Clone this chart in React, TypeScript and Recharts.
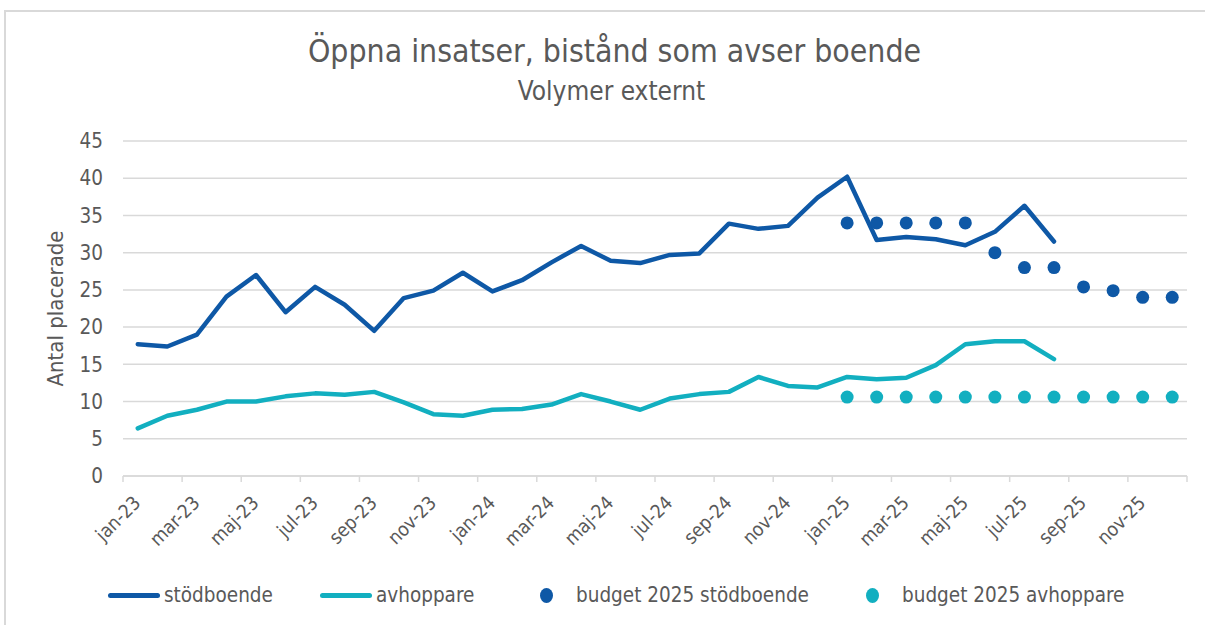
import { CartesianGrid, Legend, Line, LineChart, XAxis, YAxis } from "recharts";

const months = [
	"jan-23", "feb-23", "mar-23", "apr-23", "maj-23", "jun-23", "jul-23", "aug-23", "sep-23", "okt-23", "nov-23", "dec-23",
	"jan-24", "feb-24", "mar-24", "apr-24", "maj-24", "jun-24", "jul-24", "aug-24", "sep-24", "okt-24", "nov-24", "dec-24",
	"jan-25", "feb-25", "mar-25", "apr-25", "maj-25", "jun-25", "jul-25", "aug-25", "sep-25", "okt-25", "nov-25", "dec-25",
];

const stodboende = [
	17.7, 17.4, 19.0, 24.1, 27.0, 22.0, 25.4, 23.0, 19.5, 23.9, 24.9, 27.3,
	24.8, 26.3, 28.7, 30.9, 28.9, 28.6, 29.7, 29.9, 33.9, 33.2, 33.6, 37.4,
	40.2, 31.7, 32.1, 31.8, 31.0, 32.8, 36.3, 31.5,
];

const avhoppare = [
	6.4, 8.1, 8.9, 10.0, 10.0, 10.7, 11.1, 10.9, 11.3, 9.9, 8.3, 8.1,
	8.9, 9.0, 9.6, 11.0, 10.0, 8.9, 10.4, 11.0, 11.3, 13.3, 12.1, 11.9,
	13.3, 13.0, 13.2, 14.9, 17.7, 18.1, 18.1, 15.7,
];

// budget 2025 starts at jan-25
const budgetStart = 24;
const budgetStod = [34, 34, 34, 34, 34, 30, 28, 28, 25.4, 24.9, 24, 24];
const budgetAvh = [10.6, 10.6, 10.6, 10.6, 10.6, 10.6, 10.6, 10.6, 10.6, 10.6, 10.6, 10.6];

const yTicks = [0, 5, 10, 15, 20, 25, 30, 35, 40, 45];

const DARK_BLUE = "#0E58A6";
const TEAL = "#12AFC0";
const TEXT = "#595959";
const GRID = "#d9d9d9";
const FONT = "'Liberation Sans Narrow', 'DejaVu Sans Condensed', 'Open Sans', sans-serif";

const CHART_W = 1199;
const CHART_H = 613;
const MARGIN = { top: 129, right: 18, left: 0, bottom: 10 };
const Y_WIDTH = 117;
const PLOT_W = CHART_W - MARGIN.left - MARGIN.right - Y_WIDTH;
const BAND = PLOT_W / months.length;

const data = months.map((month, i) => ({
	month,
	stod: i < stodboende.length ? stodboende[i] : null,
	avh: i < avhoppare.length ? avhoppare[i] : null,
	bStod: i >= budgetStart ? budgetStod[i - budgetStart] : null,
	bAvh: i >= budgetStart ? budgetAvh[i - budgetStart] : null,
}));

const legendItems = [
	{ label: "stödboende", color: DARK_BLUE, kind: "line", width: 212 },
	{ label: "avhoppare", color: TEAL, kind: "line", width: 220 },
	{ label: "budget 2025 stödboende", color: DARK_BLUE, kind: "dot", width: 326 },
	{ label: "budget 2025 avhoppare", color: TEAL, kind: "dot", width: 260 },
];

function MonthTick(props: any) {
	const { x, y, payload } = props;
	const idx = months.indexOf(payload.value);
	const left = x - BAND / 2;
	return (
		<g>
			<line x1={left} y1={y} x2={left} y2={y + 6} stroke={GRID} strokeWidth={1.5} />
			{idx === months.length - 2 && (
				<line x1={x + BAND * 1.5} y1={y} x2={x + BAND * 1.5} y2={y + 6} stroke={GRID} strokeWidth={1.5} />
			)}
			<text
				x={x + 4}
				y={y + 28}
				textAnchor="end"
				transform={`rotate(-45 ${x + 4} ${y + 28})`}
				fill={TEXT}
				fontSize={19}
				fontFamily={FONT}
			>
				{payload.value}
			</text>
		</g>
	);
}

function ChartLegend() {
	return (
		<div style={{ display: "flex", height: 40, alignItems: "center", paddingLeft: 102, fontFamily: FONT, fontSize: 20.5, color: TEXT }}>
			{legendItems.map((item) => (
				<div key={item.label} style={{ display: "flex", alignItems: "center", width: item.width, flexShrink: 0 }}>
					{item.kind === "line" ? (
						<span style={{ display: "inline-block", width: 52, height: 5, borderRadius: 3, background: item.color, marginRight: 4 }} />
					) : (
						<span style={{ display: "inline-block", width: 13, height: 15, borderRadius: "50%", background: item.color, marginRight: 23 }} />
					)}
					<span>{item.label}</span>
				</div>
			))}
		</div>
	);
}

export default function App() {
	return (
		<div
			style={{
				position: "absolute",
				left: 4,
				top: 10,
				width: CHART_W,
				height: CHART_H,
				borderTop: `2px solid ${GRID}`,
				borderLeft: `2px solid ${GRID}`,
				background: "#fff",
				fontFamily: FONT,
			}}
		>
			<div style={{ position: "absolute", top: 21, left: 0, width: "100%", paddingLeft: 18, boxSizing: "border-box", textAlign: "center", fontSize: 31.7, color: TEXT }}>
				Öppna insatser, bistånd som avser boende
			</div>
			<div style={{ position: "absolute", top: 64, left: 0, width: "100%", paddingLeft: 12, boxSizing: "border-box", textAlign: "center", fontSize: 26, color: TEXT }}>
				Volymer externt
			</div>
			<LineChart width={CHART_W} height={CHART_H} data={data} margin={MARGIN}>
				<CartesianGrid vertical={false} stroke={GRID} strokeWidth={1.5} />
				<XAxis
					dataKey="month"
					interval={1}
					padding={{ left: BAND / 2, right: BAND / 2 }}
					tickLine={false}
					tickSize={0}
					tickMargin={0}
					axisLine={{ stroke: GRID, strokeWidth: 1.5 }}
					height={99}
					tick={<MonthTick />}
				/>
				<YAxis
					width={Y_WIDTH}
					domain={[0, 45]}
					ticks={yTicks}
					tickLine={false}
					axisLine={false}
					tickMargin={14}
					tick={{ fill: TEXT, fontSize: 20.5, fontFamily: FONT }}
					label={{
						value: "Antal placerade",
						angle: -90,
						position: "insideLeft",
						offset: 49,
						style: { textAnchor: "middle", fill: TEXT, fontSize: 22, fontFamily: FONT },
					}}
				/>
				<Legend verticalAlign="bottom" content={<ChartLegend />} />
				<Line
					dataKey="stod"
					stroke={DARK_BLUE}
					strokeWidth={4.5}
					strokeLinecap="round"
					strokeLinejoin="round"
					dot={false}
					isAnimationActive={false}
				/>
				<Line
					dataKey="avh"
					stroke={TEAL}
					strokeWidth={4.5}
					strokeLinecap="round"
					strokeLinejoin="round"
					dot={false}
					isAnimationActive={false}
				/>
				<Line
					dataKey="bStod"
					stroke="none"
					dot={{ r: 6.5, fill: DARK_BLUE, stroke: "none" }}
					isAnimationActive={false}
				/>
				<Line
					dataKey="bAvh"
					stroke="none"
					dot={{ r: 6.5, fill: TEAL, stroke: "none" }}
					isAnimationActive={false}
				/>
			</LineChart>
		</div>
	);
}
